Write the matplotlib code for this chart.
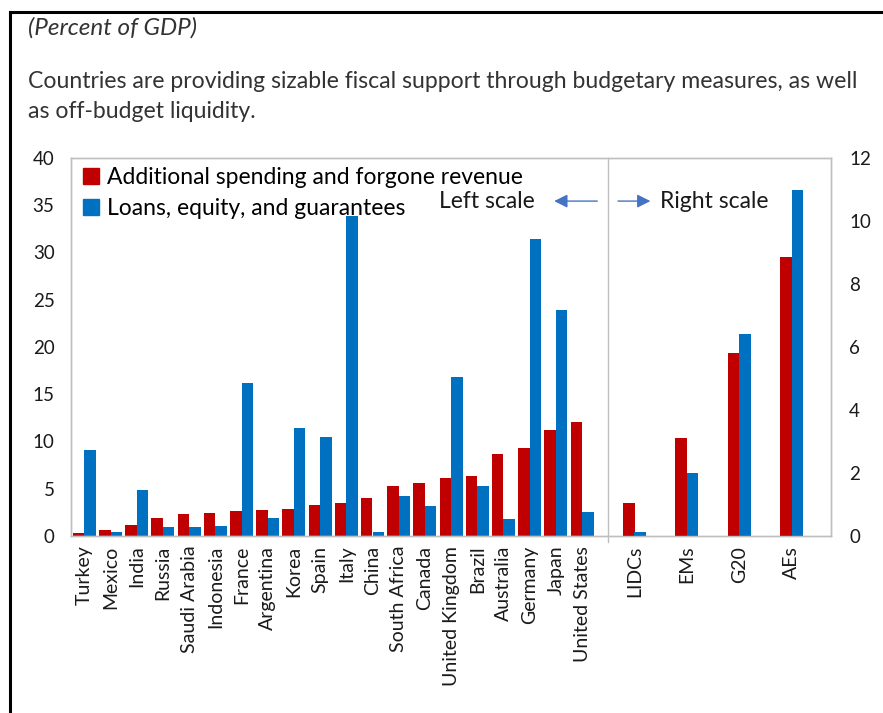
import matplotlib
matplotlib.use("Agg")
import matplotlib.pyplot as plt
from matplotlib.patches import Patch
import numpy as np

countries = ["Turkey", "Mexico", "India", "Russia", "Saudi Arabia", "Indonesia", "France",
             "Argentina", "Korea", "Spain", "Italy", "China", "South Africa", "Canada",
             "United Kingdom", "Brazil", "Australia", "Germany", "Japan", "United States"]
spending = [0.3, 0.6, 1.2, 1.9, 2.3, 2.4, 2.6, 2.8, 2.9, 3.3, 3.5, 4.0, 5.3, 5.6, 6.1, 6.4,
            8.7, 9.3, 11.2, 12.1]
loans = [9.1, 0.4, 4.9, 1.0, 0.9, 1.1, 16.2, 1.9, 11.4, 10.5, 33.9, 0.4, 4.2, 3.2, 16.8,
         5.3, 1.8, 31.4, 23.9, 2.5]

groups = ["LIDCs", "EMs", "G20", "AEs"]
group_spending = [1.05, 3.1, 5.8, 8.85]
group_loans = [0.12, 2.0, 6.4, 11.0]

series_names = ["Additional spending and forgone revenue", "Loans, equity, and guarantees"]
left_ticks = [0, 5, 10, 15, 20, 25, 30, 35, 40]
right_ticks = [0, 2, 4, 6, 8, 10, 12]

RED = "#C00000"
BLUE = "#0070C0"
GRAY = "#BFBFBF"
FONT = "Lato"

plt.rcParams["font.family"] = [FONT, "DejaVu Sans"]

fig = plt.figure(figsize=(8.83, 7.13), dpi=100)

# outer frame (top and left edges)
fig.add_artist(plt.Line2D([10 / 883, 1.0], [1 - 11.5 / 713] * 2, color="black", lw=2.2,
                          transform=fig.transFigure))
fig.add_artist(plt.Line2D([10 / 883] * 2, [0, 1 - 11.5 / 713], color="black", lw=2.2,
                          transform=fig.transFigure))

fig.text(28 / 883, 1 - 28 / 713, "(Percent of GDP)", fontsize=17.5, style="italic",
         color="#333333", va="center", ha="left")
fig.text(28 / 883, 1 - 81 / 713,
         "Countries are providing sizable fiscal support through budgetary measures, as well",
         fontsize=16.6, color="#333333", va="center", ha="left")
fig.text(28 / 883, 1 - 111 / 713, "as off-budget liquidity.",
         fontsize=16.6, color="#333333", va="center", ha="left")

ax = fig.add_axes([71.2 / 883, 1 - 536 / 713, (831 - 71.2) / 883, (536 - 158) / 713])
ax2 = ax.twinx()

n = len(countries)
x_c = np.arange(n)
x_g = np.array([n + 1 + 2 * i for i in range(len(groups))])
w = 0.44

ax.bar(x_c - w / 2, spending, width=w, color=RED, linewidth=0)
ax.bar(x_c + w / 2, loans, width=w, color=BLUE, linewidth=0)
ax2.bar(x_g - w / 2, group_spending, width=w, color=RED, linewidth=0)
ax2.bar(x_g + w / 2, group_loans, width=w, color=BLUE, linewidth=0)

ax.set_xlim(-0.5, n + 2 * len(groups) + 0.5)
ax.set_ylim(0, 40)
ax2.set_ylim(0, 12)
ax.set_yticks(left_ticks)
ax2.set_yticks(right_ticks)
ax.set_xticks(list(x_c) + list(x_g))
ax.set_xticklabels(countries + groups, rotation=90, fontsize=14, color="#1a1a1a")

ax.tick_params(axis="y", length=0, labelsize=13.5, pad=12, colors="#1a1a1a")
ax2.tick_params(axis="y", length=0, labelsize=13.5, pad=13, colors="#1a1a1a")
ax.tick_params(axis="x", length=0, pad=7)
for a in (ax, ax2):
    for s in a.spines.values():
        s.set_color(GRAY)
        s.set_linewidth(1.0)

# separator between countries and groups
ax.axvline(n, ymin=-0.015, ymax=1, color=GRAY, lw=1.0, clip_on=False)

handles = [Patch(color=RED), Patch(color=BLUE)]
leg = ax.legend(handles, series_names, loc="upper left", bbox_to_anchor=(0.003, 1.0),
                frameon=False, fontsize=16.5, handlelength=0.7, handleheight=0.7,
                handletextpad=0.35, labelspacing=0.42, borderaxespad=0.0)

ax.annotate("", xy=(0.632, 0.886), xytext=(0.696, 0.886), xycoords="axes fraction",
            arrowprops=dict(arrowstyle="-|>", color="#4472C4", lw=1.0, mutation_scale=20))
ax.annotate("", xy=(0.766, 0.886), xytext=(0.716, 0.886), xycoords="axes fraction",
            arrowprops=dict(arrowstyle="-|>", color="#4472C4", lw=1.0, mutation_scale=20))
ax.text(0.610, 0.886, "Left scale", transform=ax.transAxes, ha="right", va="center",
        fontsize=16.5, color="#1a1a1a")
ax.text(0.775, 0.886, "Right scale", transform=ax.transAxes, ha="left", va="center",
        fontsize=16.5, color="#1a1a1a")

fig.savefig("out.png", dpi=100)
